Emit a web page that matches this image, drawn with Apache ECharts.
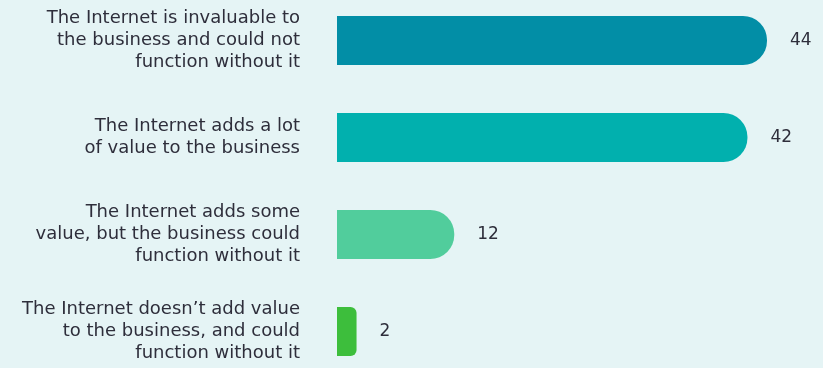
<!DOCTYPE html>
<html>
<head>
<meta charset="utf-8">
<script src="https://cdn.jsdelivr.net/npm/echarts@6/dist/echarts.min.js"></script>
<style>
  html, body { margin: 0; padding: 0; background: #e5f4f5; }
  #chart { width: 823px; height: 368px; }
</style>
</head>
<body>
<div id="chart"></div>
<script>
// categories, top to bottom
const categories = [
  'The Internet is invaluable to\nthe business and could not\nfunction without it',
  'The Internet adds a lot\nof value to the business',
  'The Internet adds some\nvalue, but the business could\nfunction without it',
  'The Internet doesn\u2019t add value\nto the business, and could\nfunction without it'
];
const values = [44, 42, 12, 2];
const barColors = ['#028ea6', '#01b0ae', '#51cd9c', '#3dbe3c'];

const chart = echarts.init(document.getElementById('chart'));

const option = {
  backgroundColor: '#e5f4f5',
  animation: false,
  grid: { left: 337, top: -8, width: 430, height: 388, outerBoundsMode: 'none' },
  xAxis: {
    type: 'value',
    min: 0,
    max: 44,
    show: false
  },
  yAxis: {
    type: 'category',
    inverse: true,
    data: categories,
    axisLine: { show: false },
    axisTick: { show: false },
    axisLabel: {
      margin: 37,
      color: '#2e2e3b',
      fontSize: 18,
      lineHeight: 22,
      fontFamily: 'DejaVu Sans',
      align: 'right',
      padding: [3, 0, 0, 0]
    }
  },
  series: [{
    type: 'bar',
    barWidth: 49,
    data: values.map((v, i) => ({
      value: v,
      itemStyle: { color: barColors[i], borderRadius: v < 5 ? [0, 6, 6, 0] : [0, 24, 24, 0] }
    })),
    label: {
      show: true,
      position: 'right',
      distance: 23,
      color: '#2e2e3b',
      fontSize: 17,
      fontFamily: 'DejaVu Sans'
    }
  }]
};
chart.setOption(option);
</script>
</body>
</html>
